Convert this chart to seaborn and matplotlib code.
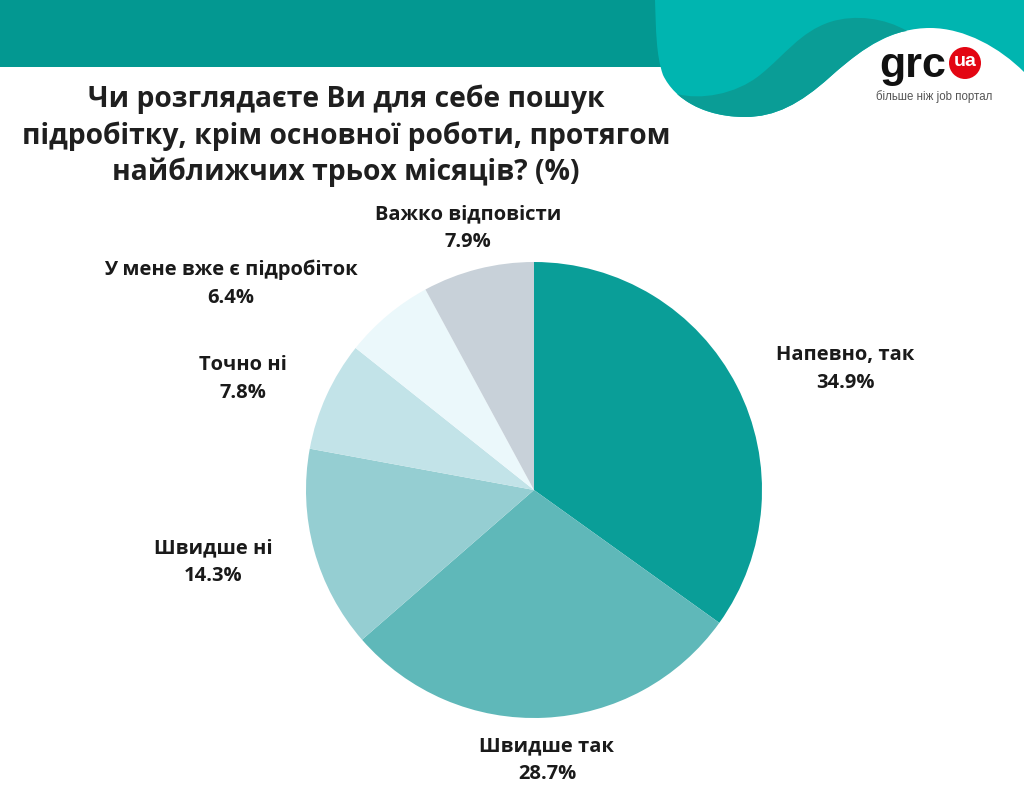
import matplotlib
matplotlib.use("Agg")
import matplotlib.pyplot as plt
import seaborn as sns
from matplotlib.path import Path
from matplotlib.patches import PathPatch, Ellipse

# ---- data ----
categories = ["Напевно, так", "Швидше так", "Швидше ні", "Точно ні",
              "У мене вже є підробіток", "Важко відповісти"]
values = [34.9, 28.7, 14.3, 7.8, 6.4, 7.9]
colors = ["#0a9e98", "#5fb8b9", "#95ced2", "#c2e3e8", "#ebf8fb", "#c8d1d9"]
title_text = ("Чи розглядаєте Ви для себе пошук\n"
              "підробітку, крім основної роботи, протягом\n"
              "найближчих трьох місяців? (%)")

# label anchor positions (in pie-radius units, relative to centre)
label_pos = [(1.364, 0.530), (0.057, -1.184), (-1.408, -0.316),
             (-1.276, 0.487), (-1.329, 0.904), (-0.289, 1.149)]

sns.set_theme(style="white")
plt.rcParams['font.family'] = ['Open Sans', 'DejaVu Sans']

W, H = 1024, 794
fig = plt.figure(figsize=(W / 100, H / 100), dpi=100)
fig.patch.set_facecolor("white")

# pie centre (534,490) px, radius 228 px
cx, cy, R = 534, 490, 228
ax = fig.add_axes([0, 0, 1, 1])
ax.pie(values, colors=colors, startangle=90, counterclock=False,
       radius=1, wedgeprops=dict(linewidth=0))
ax.set_aspect("auto")
ax.set_xlim(-cx / R, (W - cx) / R)
ax.set_ylim((cy - H) / R, cy / R)
ax.axis("off")

for cat, v, (lx, ly) in zip(categories, values, label_pos):
    ax.text(lx, ly, f"{cat}\n{v:.1f}%", ha="center", va="center",
            fontsize=14.5, fontweight="bold", color="#1a1a1a",
            linespacing=1.5)

# ---- header decoration (figure pixel coords) ----
def P(x, y):
    return (x / W, 1 - y / H)

def shape(start, segments, color, z=5):
    verts, codes = [P(*start)], [Path.MOVETO]
    for seg in segments:
        if isinstance(seg[0], tuple):
            for pt in seg:
                verts.append(P(*pt)); codes.append(Path.CURVE4)
        else:
            verts.append(P(*seg)); codes.append(Path.LINETO)
    verts.append(P(*start)); codes.append(Path.CLOSEPOLY)
    fig.patches.append(PathPatch(Path(verts, codes), facecolor=color,
                                 edgecolor="none", transform=fig.transFigure,
                                 zorder=z))

# dark band
shape((0, 0), [(662, 0), (662, 67), (0, 67)], "#039891")
# light teal wave
shape((655, 0), [(1024, 0), (1024, 72),
                 ((1000, 48), (965, 28), (930, 28)),
                 ((895, 28), (865, 45), (830, 77)),
                 ((800, 104), (775, 117), (745, 117)),
                 ((705, 117), (675, 100), (663, 75)),
                 ((656, 55), (656, 30), (655, 0))], "#00b5b0")
# darker stripe inside the wave
shape((677, 94), [((695, 110), (720, 117), (745, 117)),
                  ((775, 117), (800, 104), (830, 77)),
                  ((855, 55), (880, 35), (907, 31)),
                  ((885, 18), (855, 14), (830, 22)),
                  ((800, 32), (785, 55), (760, 75)),
                  ((735, 95), (700, 100), (677, 94))], "#0a9d96")

# logo
lf = ["Liberation Sans", "DejaVu Sans"]
fig.text(*P(879, 77), "grc", fontsize=31, fontweight="bold", family=lf,
         color="#111111", ha="left", va="baseline", zorder=6)
fig.patches.append(Ellipse(P(965, 63), 32 / W, 32 / H,
                           transform=fig.transFigure, facecolor="#e30613",
                           edgecolor="none", zorder=6))
fig.text(*P(965, 62), "ua", fontsize=14, fontweight="bold", family=lf,
         color="white", ha="center", va="center", zorder=7)
fig.text(*P(934, 97), "більше ніж job портал", fontsize=8.3, family=lf,
         color="#555555", ha="center", va="center", zorder=6)

# title
fig.text(*P(346, 136), title_text, ha="center", va="center",
         fontsize=20.3, fontweight="bold", color="#1f1f1f", linespacing=1.32)

fig.savefig("out.png", dpi=100, facecolor="white")
